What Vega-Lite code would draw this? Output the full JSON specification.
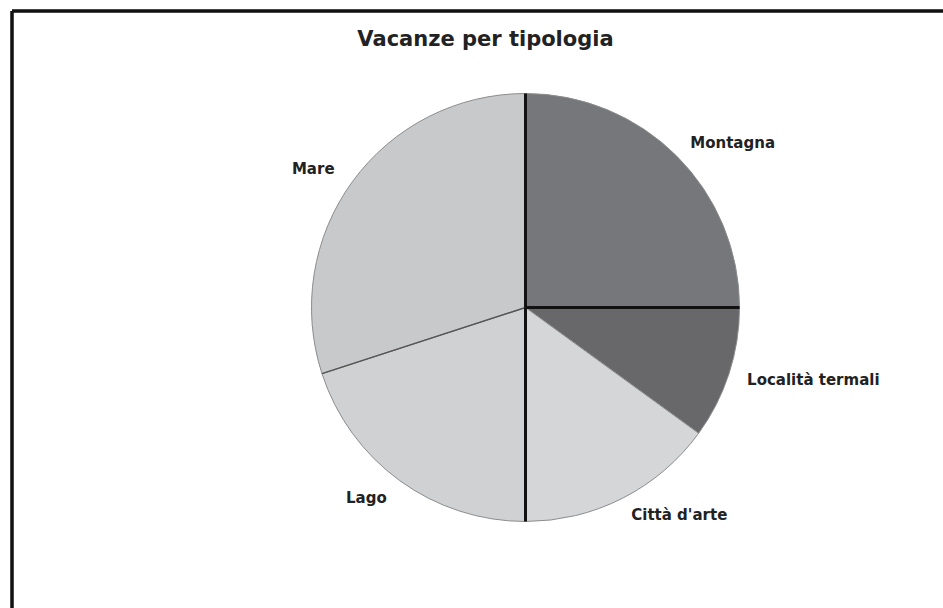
{
  "$schema": "https://vega.github.io/schema/vega-lite/v6.json",
  "width": 1001,
  "height": 605,
  "autosize": {"type": "none"},
  "padding": {"left": 12, "top": 11, "right": -70, "bottom": -8},
  "background": "white",
  "title": {
    "text": "Vacanze per tipologia",
    "font": "DejaVu Sans",
    "fontSize": 21,
    "fontWeight": "bold",
    "color": "#222222",
    "anchor": "middle",
    "dx": -27,
    "dy": 21,
    "offset": -36,
    "baseline": "alphabetic"
  },
  "data": {
    "values": [
      {"category": "Montagna", "value": 25},
      {"category": "Località termali", "value": 10},
      {"category": "Città d'arte", "value": 15},
      {"category": "Lago", "value": 20},
      {"category": "Mare", "value": 30}
    ]
  },
  "transform": [{"stack": "value", "groupby": [], "as": ["v0", "v1"]}],
  "layer": [
    {
      "mark": {"type": "rect", "fill": null, "fillOpacity": 0, "stroke": "#111111", "strokeWidth": 2.5, "strokeDash": [1001, 1606, 605, 0]},
      "encoding": {}
    },
    {
      "mark": {"type": "arc", "outerRadius": 214, "stroke": "#8c8c8c", "strokeWidth": 1, "xOffset": 13, "yOffset": -6},
      "encoding": {
        "theta": {"field": "v0", "type": "quantitative", "scale": {"domain": [0, 100]}},
        "theta2": {"field": "v1"},
        "color": {
          "field": "category",
          "type": "nominal",
          "scale": {
            "domain": ["Montagna", "Località termali", "Città d'arte", "Lago", "Mare"],
            "range": ["#76777a", "#68686b", "#d5d6d8", "#d0d1d3", "#c8c9cb"]
          },
          "legend": null
        }
      }
    },
    {
      "transform": [{"filter": "datum.category == 'Mare'"}],
      "mark": {"type": "arc", "outerRadius": 214, "fill": null, "fillOpacity": 0, "stroke": "#555555", "strokeWidth": 1.5, "xOffset": 13, "yOffset": -6},
      "encoding": {
        "theta": {"field": "v0", "type": "quantitative", "scale": {"domain": [0, 100]}},
        "theta2": {"field": "v0"}
      }
    },
    {
      "transform": [{"filter": "datum.category == 'Montagna' || datum.category == 'Località termali' || datum.category == 'Lago'"}],
      "mark": {"type": "arc", "outerRadius": 214, "fill": null, "fillOpacity": 0, "stroke": "#111111", "strokeWidth": 3, "xOffset": 13, "yOffset": -6},
      "encoding": {
        "theta": {"field": "v0", "type": "quantitative", "scale": {"domain": [0, 100]}},
        "theta2": {"field": "v0"}
      }
    },
    {
      "mark": {"type": "text", "radius": 233, "align": "left", "baseline": "middle", "font": "DejaVu Sans", "fontSize": 15, "fontWeight": "bold", "color": "#222222", "xOffset": 13, "yOffset": -6},
      "encoding": {
        "theta": {"field": "value", "type": "quantitative", "stack": true, "scale": {"domain": [0, 100]}},
        "order": {"field": "v0", "type": "quantitative"},
        "detail": {"field": "category"},
        "text": {"condition": {"test": "datum.category == 'Lago' || datum.category == 'Mare'", "value": ""}, "field": "category"}
      }
    },
    {
      "mark": {"type": "text", "radius": 236, "align": "right", "baseline": "middle", "font": "DejaVu Sans", "fontSize": 15, "fontWeight": "bold", "color": "#222222", "xOffset": 13, "yOffset": -6},
      "encoding": {
        "theta": {"field": "value", "type": "quantitative", "stack": true, "scale": {"domain": [0, 100]}},
        "order": {"field": "v0", "type": "quantitative"},
        "detail": {"field": "category"},
        "text": {"condition": {"test": "datum.category == 'Lago' || datum.category == 'Mare'", "field": "category"}, "value": ""}
      }
    }
  ]
}
